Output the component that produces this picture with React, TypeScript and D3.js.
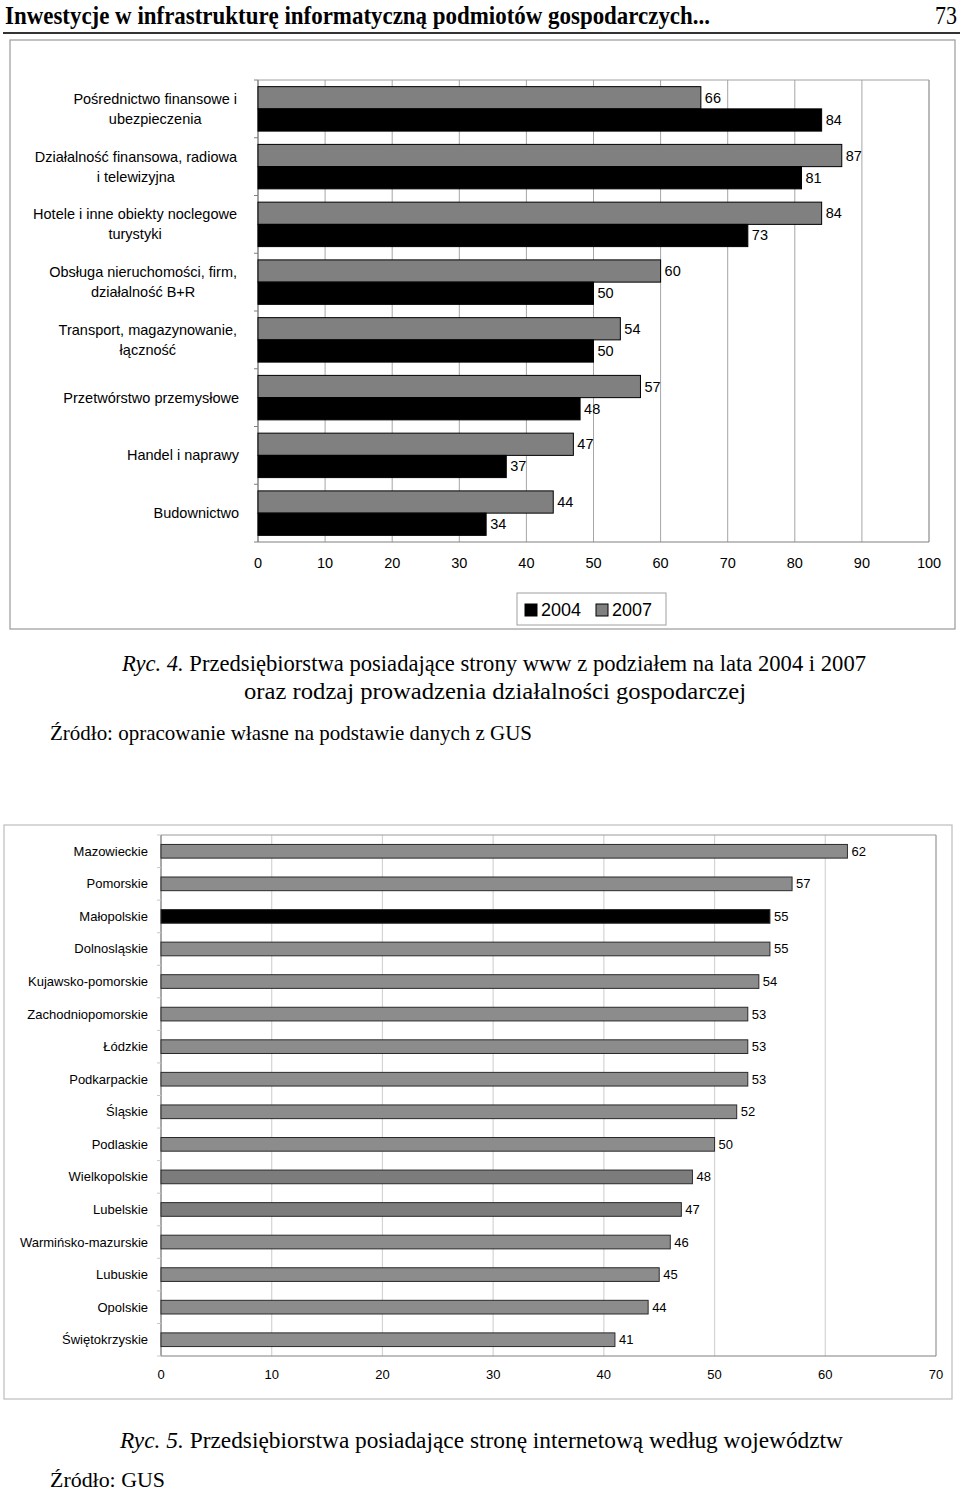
import React, { useEffect } from "react";
import * as d3 from "d3";

// ---------- Chart 1 data ----------
const sectorLabels: string[][] = [
  ["Pośrednictwo finansowe i", "ubezpieczenia"],
  ["Działalność finansowa, radiowa", "i telewizyjna"],
  ["Hotele i inne obiekty noclegowe", "turystyki"],
  ["Obsługa nieruchomości, firm,", "działalność B+R"],
  ["Transport, magazynowanie,", "łączność"],
  ["Przetwórstwo przemysłowe"],
  ["Handel i naprawy"],
  ["Budownictwo"],
];
const values2007: number[] = [66, 87, 84, 60, 54, 57, 47, 44];
const values2004: number[] = [84, 81, 73, 50, 50, 48, 37, 34];
const seriesNames: string[] = ["2007", "2004"];
const legendNames: string[] = ["2004", "2007"];
const ticks1: number[] = [0, 10, 20, 30, 40, 50, 60, 70, 80, 90, 100];

// ---------- Chart 2 data ----------
const regions: string[] = [
  "Mazowieckie",
  "Pomorskie",
  "Małopolskie",
  "Dolnosląskie",
  "Kujawsko-pomorskie",
  "Zachodniopomorskie",
  "Łódzkie",
  "Podkarpackie",
  "Śląskie",
  "Podlaskie",
  "Wielkopolskie",
  "Lubelskie",
  "Warmińsko-mazurskie",
  "Lubuskie",
  "Opolskie",
  "Świętokrzyskie",
];
const regionValues: number[] = [62, 57, 55, 55, 54, 53, 53, 53, 52, 50, 48, 47, 46, 45, 44, 41];
const ticks2: number[] = [0, 10, 20, 30, 40, 50, 60, 70];

const SANS = '"Liberation Sans", Arial, sans-serif';
const SERIF = '"Liberation Serif", "Times New Roman", serif';

let ctx: CanvasRenderingContext2D | null = null;
function measure(text: string, font: string): number {
  if (!ctx) ctx = document.createElement("canvas").getContext("2d");
  if (!ctx) return text.length * 7;
  ctx.font = font;
  return ctx.measureText(text).width;
}

function Chart1() {
  const x0 = 258, x1 = 929, y0 = 80, y1 = 542;
  const x = d3.scaleLinear().domain([0, 100]).range([x0, x1]);
  const idx = sectorLabels.map((_, i) => i);
  const y = d3.scaleBand<number>().domain(idx).range([y0, y1]).paddingInner(0.23).paddingOuter(0.115);
  const inner = d3.scaleBand<string>().domain(seriesNames).range([0, y.bandwidth()]);
  const step = y.step();
  const labelFont = `14.5px ${SANS}`;
  const labelRight = 237;
  return (
    <g>
      <rect x={10} y={40} width={945} height={589} fill="#fff" stroke="#9a9a9a" strokeWidth={1.2} />
      {ticks1.map((t) => (
        <line key={"g" + t} x1={x(t)} x2={x(t)} y1={y0} y2={y1} stroke="#a6a6a6" strokeWidth={1} />
      ))}
      <line x1={x0} x2={x1} y1={y0} y2={y0} stroke="#a0a0a0" />
      <line x1={x1} x2={x1} y1={y0} y2={y1} stroke="#a0a0a0" />
      <line x1={x0} x2={x1} y1={y1} y2={y1} stroke="#808080" strokeWidth={1.2} />
      <line x1={x0} x2={x0} y1={y0} y2={y1} stroke="#808080" strokeWidth={1.2} />
      {d3.range(sectorLabels.length + 1).map((i) => (
        <line key={"t" + i} x1={x0 - 4} x2={x0} y1={y0 + i * step} y2={y0 + i * step} stroke="#808080" />
      ))}
      {idx.map((i) => {
        const by = y(i)!;
        const vals = [values2007[i], values2004[i]];
        return (
          <g key={"b" + i}>
            {seriesNames.map((s, k) => {
              const v = vals[k];
              const yy = by + inner(s)!;
              const h = inner.bandwidth();
              return (
                <g key={s}>
                  <rect
                    x={x(0)}
                    y={yy}
                    width={x(v) - x(0)}
                    height={h}
                    fill={s === "2007" ? "#808080" : "#000"}
                    stroke="#000"
                    strokeWidth={1}
                  />
                  <text x={x(v) + 4} y={yy + h / 2 + 5} fontFamily={SANS} fontSize={14.5} fill="#000">
                    {v}
                  </text>
                </g>
              );
            })}
          </g>
        );
      })}
      {idx.map((i) => {
        const lines = sectorLabels[i];
        const cy = y(i)! + y.bandwidth() / 2;
        if (lines.length === 1) {
          return (
            <text key={"l" + i} x={labelRight + 2} y={cy + 5} textAnchor="end" fontFamily={SANS} fontSize={14.5}>
              {lines[0]}
            </text>
          );
        }
        const maxW = Math.max(...lines.map((l) => measure(l, labelFont)));
        const cx = labelRight - maxW / 2;
        const lh = 20;
        const top = cy - ((lines.length - 1) * lh) / 2;
        return (
          <g key={"l" + i}>
            {lines.map((l, k) => (
              <text key={k} x={cx} y={top + k * lh + 5} textAnchor="middle" fontFamily={SANS} fontSize={14.5}>
                {l}
              </text>
            ))}
          </g>
        );
      })}
      {ticks1.map((t) => (
        <text key={"x" + t} x={x(t)} y={y1 + 26} textAnchor="middle" fontFamily={SANS} fontSize={14.5}>
          {t}
        </text>
      ))}
      <rect x={517} y={593} width={149} height={32} fill="#fff" stroke="#a0a0a0" />
      {legendNames.map((n, k) => {
        const lx = 525 + k * 71;
        return (
          <g key={n}>
            <rect x={lx} y={604} width={12} height={12} fill={n === "2004" ? "#000" : "#808080"} stroke="#000" />
            <text x={lx + 16} y={616} fontFamily={SANS} fontSize={18}>
              {n}
            </text>
          </g>
        );
      })}
    </g>
  );
}

function Chart2() {
  const x0 = 161, x1 = 936, y0 = 835, y1 = 1356;
  const x = d3.scaleLinear().domain([0, 70]).range([x0, x1]);
  const y = d3.scaleBand<string>().domain(regions).range([y0, y1]).paddingInner(0.58).paddingOuter(0.29);
  const step = y.step();
  const fillFor = (r: string) =>
    r === "Małopolskie" ? "#000" : r === "Wielkopolskie" || r === "Lubelskie" ? "#7c7c7c" : "#8c8c8c";
  return (
    <g>
      <rect x={4} y={825} width={948} height={574} fill="#fff" stroke="#bdbdbd" strokeWidth={1.2} />
      {ticks2.map((t) => (
        <line key={"g" + t} x1={x(t)} x2={x(t)} y1={y0} y2={y1} stroke="#d4d4d4" strokeWidth={1.2} />
      ))}
      <line x1={x0} x2={x1} y1={y0} y2={y0} stroke="#9a9a9a" />
      <line x1={x1} x2={x1} y1={y0} y2={y1} stroke="#9a9a9a" />
      <line x1={x0} x2={x1} y1={y1} y2={y1} stroke="#808080" strokeWidth={1.2} />
      <line x1={x0} x2={x0} y1={y0} y2={y1} stroke="#808080" strokeWidth={1.2} />
      {d3.range(regions.length + 1).map((i) => (
        <line key={"t" + i} x1={x0 - 4} x2={x0} y1={y0 + i * step} y2={y0 + i * step} stroke="#c8c8c8" />
      ))}
      {regions.map((r, i) => {
        const v = regionValues[i];
        const by = y(r)!;
        const h = y.bandwidth();
        return (
          <g key={r}>
            <rect x={x(0)} y={by} width={x(v) - x(0)} height={h} fill={fillFor(r)} stroke="#2a2a2a" strokeWidth={1} />
            <text x={x(v) + 4} y={by + h / 2 + 4.5} fontFamily={SANS} fontSize={13}>
              {v}
            </text>
            <text x={148} y={by + h / 2 + 4.5} textAnchor="end" fontFamily={SANS} fontSize={13}>
              {r}
            </text>
          </g>
        );
      })}
      {ticks2.map((t) => (
        <text key={"x" + t} x={x(t)} y={y1 + 23} textAnchor="middle" fontFamily={SANS} fontSize={13}>
          {t}
        </text>
      ))}
    </g>
  );
}

export default function App() {
  useEffect(() => {
    document.body.style.margin = "0";
  }, []);
  const fit = { lengthAdjust: "spacingAndGlyphs" as const };
  return (
    <svg width={960} height={1492} style={{ display: "block", background: "#fff" }}>
      <text x={5} y={24} fontFamily={SERIF} fontWeight="bold" fontSize={25} textLength={705} {...fit}>
        Inwestycje w infrastrukturę informatyczną podmiotów gospodarczych...
      </text>
      <text x={957} y={24} textAnchor="end" fontFamily={SERIF} fontSize={25} textLength={22} {...fit}>
        73
      </text>
      <line x1={3} x2={960} y1={33} y2={33} stroke="#333" strokeWidth={2} />

      <Chart1 />

      <text x={122} y={671} fontFamily={SERIF} fontSize={23} textLength={744} {...fit}>
        <tspan fontStyle="italic">Ryc. 4.</tspan> Przedsiębiorstwa posiadające strony www z podziałem na lata 2004 i 2007
      </text>
      <text x={244} y={699} fontFamily={SERIF} fontSize={23} textLength={502} {...fit}>
        oraz rodzaj prowadzenia działalności gospodarczej
      </text>
      <text x={50} y={740} fontFamily={SERIF} fontSize={22} textLength={482} {...fit}>
        Źródło: opracowanie własne na podstawie danych z GUS
      </text>

      <Chart2 />

      <text x={120} y={1448} fontFamily={SERIF} fontSize={23} textLength={723} {...fit}>
        <tspan fontStyle="italic">Ryc. 5.</tspan> Przedsiębiorstwa posiadające stronę internetową według województw
      </text>
      <text x={50} y={1487} fontFamily={SERIF} fontSize={22} textLength={115} {...fit}>
        Źródło: GUS
      </text>
    </svg>
  );
}
